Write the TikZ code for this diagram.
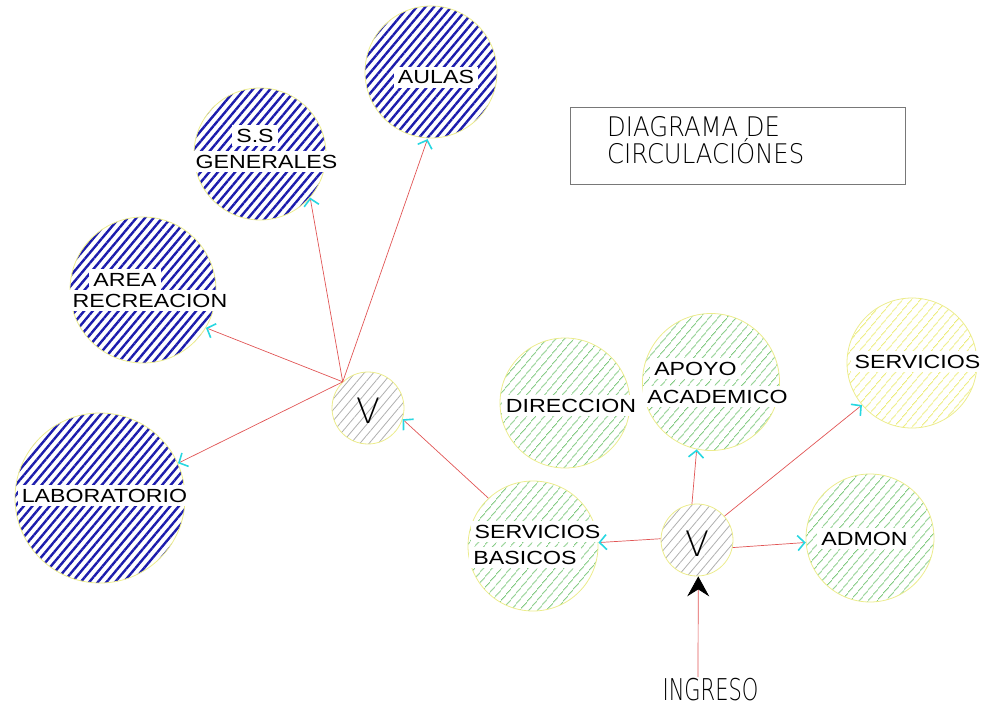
\documentclass[tikz,border=0pt]{standalone}
\usepackage{fontspec}
\setmainfont{Liberation Sans}
\newfontfamily\lblfont[FakeStretch=1.22]{Liberation Sans}
\newfontfamily\thinfont{DejaVu Sans ExtraLight}
\usetikzlibrary{patterns.meta,arrows.meta}

\definecolor{hblue}{RGB}{28,28,172}
\definecolor{hgreen}{RGB}{125,200,125}
\definecolor{hgray}{RGB}{175,175,175}
\definecolor{hyellow}{RGB}{236,236,120}
\definecolor{rim}{RGB}{236,236,140}
\definecolor{flowred}{RGB}{225,85,85}
\definecolor{tipcyan}{RGB}{40,215,225}
\definecolor{boxgray}{RGB}{120,120,120}

\tikzset{
  zone/.style={circle, inner sep=0pt, draw=rim, line width=0.8pt},
  bluezone/.style={zone, pattern={Lines[angle=50,distance=6.6pt,line width=2.4pt]}, pattern color=hblue},
  greenzone/.style={zone, pattern={Lines[angle=50,distance=6.5pt,line width=1pt]}, pattern color=hgreen},
  grayzone/.style={zone, pattern={Lines[angle=50,distance=7pt,line width=0.8pt]}, pattern color=hgray},
  yellowzone/.style={zone, pattern={Lines[angle=50,distance=6.5pt,line width=1pt]}, pattern color=hyellow},
  lbl/.style={fill=white, inner xsep=4pt, inner ysep=3.5pt, anchor=base,
    font=\lblfont\fontsize{19}{19}\selectfont},
  vtag/.style={anchor=base, inner sep=0pt, font=\thinfont\fontsize{35}{35}\selectfont},
  flow/.style={draw=flowred, line width=0.7pt,
    -{Straight Barb[length=7pt,width=15pt,line width=1.6pt,color=tipcyan]}},
  entry/.style={draw=flowred, line width=0.7pt,
    -{Stealth[length=20pt,width=22pt,inset=7pt,black]}}
}

\begin{document}
\begin{tikzpicture}[x=1pt,y=-1pt]
\useasboundingbox (0,0) rectangle (988,709);

% zones
\node[bluezone, minimum size=132pt] (aulas) at (431,72) {};
\node[bluezone, minimum size=132pt] (ssg) at (260,154) {};
\node[bluezone, minimum size=146pt] (area) at (143,290) {};
\node[bluezone, minimum size=170pt] (lab) at (100,498) {};
\node[grayzone, minimum size=72pt] (vl) at (368,408) {};
\node[greenzone, minimum size=130pt] (sb) at (533,546) {};
\node[grayzone, minimum size=72pt] (vr) at (697,540) {};
\node[greenzone, minimum size=128pt] (admon) at (870,538) {};
\node[yellowzone, minimum size=130pt] (serv) at (912,363) {};
\node[greenzone, minimum size=130pt] (dir) at (565,403) {};
\node[greenzone, minimum size=137pt] (apoyo) at (711,382) {};

% labels
\node[lbl] (aulas-t) at (436,84) {AULAS};
\node[lbl] (ssg-t1) at (255,142) {S.S};
\node[lbl] (ssg-t2) at (266.5,168) {GENERALES};
\node[lbl] (area-t1) at (125,286) {AREA};
\node[lbl] (area-t2) at (150,307) {RECREACION};
\node[lbl] (lab-t) at (104.5,502) {LABORATORIO};
\node[lbl] (sb-t1) at (537.5,538) {SERVICIOS};
\node[lbl] (sb-t2) at (525,564) {BASICOS};
\node[lbl] (dir-t) at (571,412) {DIRECCION};
\node[lbl] (apoyo-t1) at (695.5,375) {APOYO};
\node[lbl] (apoyo-t2) at (717.5,403) {ACADEMICO};
\node[lbl] (serv-t) at (917.5,368) {SERVICIOS};
\node[lbl] (admon-t) at (864.5,545) {ADMON};

\node[vtag] (vl-t) at (368,423) {V};
\node[vtag] (vr-t) at (697,556) {V};

% title
\node[draw=boxgray, line width=0.8pt, minimum width=335pt, minimum height=77pt, inner sep=0pt]
  (title) at (737.5,145.5) {};
\node[anchor=base west, inner sep=0pt, font=\thinfont\fontsize{27}{27}\selectfont]
  (title-1) at (607,136) {\scalebox{0.9}[1]{DIAGRAMA DE}};
\node[anchor=base west, inner sep=0pt, font=\thinfont\fontsize{27}{27}\selectfont]
  (title-2) at (607,163) {\scalebox{0.9}[1]{CIRCULACIÓNES}};

% entrance
\node[anchor=base, inner sep=0pt, font=\thinfont\fontsize{30}{30}\selectfont]
  (ingreso) at (710.5,700) {\scalebox{0.7}[1]{INGRESO}};
\coordinate (ing-start) at (698,677);

% circulation
\coordinate (hub) at (vl.134);
\draw[flow] (hub) -- (aulas.267);
\draw[flow] (hub) -- (ssg.319);
\draw[flow] (hub) -- (area.329);
\draw[flow] (hub) -- (lab.24);
\draw[flow] (sb.133) -- (vl.342);
\draw[flow] (vr.178) -- (sb.3);
\draw[flow] (vr.98) -- (apoyo.258);
\draw[flow] (vr.41) -- (serv.220);
\draw[flow] (vr.348) -- (admon.184);
\draw[entry] (ing-start) -- (vr.272);
\end{tikzpicture}
\end{document}
